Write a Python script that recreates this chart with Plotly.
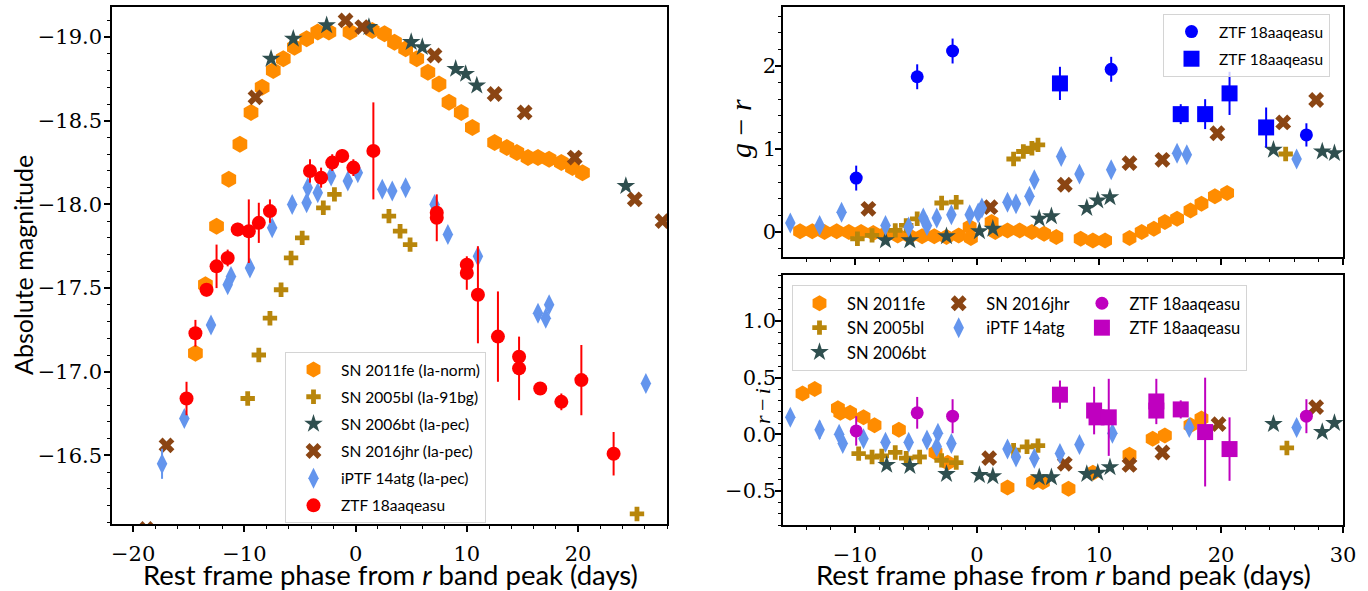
import plotly.graph_objects as go

# ---------------- Left panel: absolute magnitude light curves ----------------
fe_d = [-14.4, -13.5, -12.5, -11.4, -10.4, -9.4, -8.4, -7.4, -6.5, -5.5, -4.4, -3.4, -2.4, -0.5,
        1.5, 2.6, 3.5, 4.5, 5.5, 6.5, 7.5, 8.4, 9.5, 10.5, 12.5, 13.6, 14.5, 15.5, 16.4, 17.4,
        18.5, 19.5, 20.4]
fe_m = [-17.11, -17.52, -17.87, -18.15, -18.36, -18.55, -18.70, -18.80, -18.87, -18.94, -18.99,
        -19.03, -19.03, -19.03, -19.04, -19.02, -18.97, -18.93, -18.87, -18.79, -18.72, -18.61,
        -18.55, -18.46, -18.37, -18.34, -18.31, -18.28, -18.28, -18.27, -18.25, -18.22, -18.19]

bl_d = [-9.7, -8.7, -7.7, -6.7, -5.8, -4.8, -2.9, -1.9, 3.0, 4.0, 4.9, 25.3]
bl_m = [-16.84, -17.10, -17.32, -17.49, -17.68, -17.80, -17.98, -18.06, -17.93, -17.84, -17.76, -16.15]

bt_d = [-7.6, -5.6, -2.6, 1.2, 5.0, 6.0, 9.0, 9.9, 10.9, 24.3]
bt_m = [-18.87, -18.99, -19.07, -19.06, -18.97, -18.94, -18.81, -18.78, -18.71, -18.11]

jhr_d = [-18.8, -17.0, -9.0, -0.9, 0.6, 7.1, 12.5, 15.2, 19.7, 25.1, 27.6]
jhr_m = [-16.06, -16.56, -18.64, -19.10, -19.06, -18.89, -18.66, -18.55, -18.28, -18.03, -17.90]

atg_d = [-17.4, -15.4, -13.0, -11.5, -11.2, -9.5, -7.5, -5.7, -4.4, -4.3, -3.4, -2.2, -0.7, 0.2,
         2.4, 3.3, 4.5, 7.1, 8.3, 11.0, 16.4, 17.1, 17.4, 26.1]
atg_m = [-16.45, -16.72, -17.28, -17.52, -17.57, -17.62, -17.86, -18.00, -18.01, -18.10, -18.07,
         -18.17, -18.14, -18.19, -18.09, -18.08, -18.10, -18.00, -17.82, -17.69, -17.35, -17.32,
         -17.40, -16.93]
atg_e = [0.09] + [0.0] * 23

ztf_d = [-15.2, -14.4, -13.4, -12.5, -11.5, -10.6, -9.6, -8.7, -7.7, -4.1, -3.1, -2.1, -1.2, -0.2,
         1.6, 7.3, 7.3, 10.0, 10.0, 11.0, 12.8, 14.7, 14.7, 16.6, 18.5, 20.3, 23.2]
ztf_m = [-16.84, -17.23, -17.49, -17.63, -17.68, -17.85, -17.84, -17.89, -17.96, -18.20, -18.16,
         -18.25, -18.29, -18.22, -18.32, -17.95, -17.92, -17.64, -17.59, -17.46, -17.21, -17.09,
         -17.02, -16.90, -16.82, -16.95, -16.51]
ztf_e = [0.10, 0.08, 0.04, 0.13, 0.05, 0.04, 0.19, 0.12, 0.07, 0.07, 0.06, 0.05, 0.04, 0.05,
         0.29, 0.04, 0.14, 0.03, 0.10, 0.29, 0.27, 0.04, 0.19, 0.03, 0.05, 0.21, 0.13]

# ---------------- Right top: g - r ----------------
fe_gr_d = [-14.5, -13.5, -12.5, -11.5, -10.5, -9.5, -8.5, -7.5, -6.5, -5.5, -4.5, -3.5, -2.5, -1.5,
           -0.6, -0.5, 1.2, 1.5, 2.5, 3.5, 4.5, 5.5, 6.5, 8.5, 9.5, 10.5, 12.5, 13.5, 14.5, 15.4,
           16.4, 17.5, 18.4, 19.5, 20.5]
fe_gr = [0.01, 0.01, 0.0, 0.01, 0.0, 0.0, -0.01, -0.02, -0.04, -0.05, -0.05, -0.05, -0.06, -0.04,
         0.06, -0.07, 0.12, 0.0, 0.02, 0.02, 0.0, -0.02, -0.06, -0.08, -0.10, -0.10, -0.07, 0.0,
         0.04, 0.12, 0.16, 0.26, 0.34, 0.43, 0.47]

bl_gr_d = [-9.8, -8.6, -6.7, -5.8, -4.9, -2.9, -1.7, 3.0, 3.8, 4.5, 5.0, 25.3]
bl_gr = [-0.08, -0.04, 0.02, 0.08, 0.16, 0.35, 0.36, 0.88, 0.97, 1.01, 1.05, 0.94]

bt_gr_d = [-7.5, -5.5, -2.5, 0.2, 1.3, 5.1, 6.1, 9.0, 9.9, 10.9, 24.3, 28.3, 29.3]
bt_gr = [-0.10, -0.10, -0.05, 0.01, 0.04, 0.16, 0.19, 0.29, 0.38, 0.42, 0.99, 0.97, 0.95]

jhr_gr_d = [-8.9, 1.1, 7.2, 12.5, 15.2, 19.7, 25.1, 27.8]
jhr_gr = [0.28, 0.30, 0.57, 0.83, 0.87, 1.19, 1.32, 1.59]

atg_gr_d = [-15.3, -12.9, -11.1, -7.5, -5.6, -4.4, -4.1, -3.3, -2.1, -0.6, 0.1, 0.4, 2.5, 3.2,
            4.3, 4.7, 6.9, 8.4, 11.0, 16.4, 17.2, 26.2]
atg_gr = [0.11, 0.08, 0.24, 0.08, 0.06, 0.17, 0.08, 0.17, 0.21, 0.21, 0.23, 0.29, 0.36, 0.34,
          0.43, 0.63, 0.91, 0.70, 0.75, 0.95, 0.93, 0.88]

ztfc_gr_d = [-9.9, -4.9, -2.0, 11.0, 27.0]
ztfc_gr = [0.65, 1.87, 2.18, 1.96, 1.17]
ztfc_gr_e = [0.15, 0.15, 0.15, 0.15, 0.14]

ztfs_gr_d = [6.8, 16.7, 18.7, 20.7, 23.7]
ztfs_gr = [1.79, 1.42, 1.42, 1.67, 1.26]
ztfs_gr_e = [0.20, 0.12, 0.18, 0.26, 0.24]

# ---------------- Right bottom: r - i ----------------
fe_ri_d = [-14.3, -13.3, -11.4, -11.2, -10.4, -9.3, -8.4, -6.4, -3.4, -2.4, 2.5, 4.6, 5.4, 7.5,
           9.5, 12.5, 14.4, 15.4, 17.5, 18.4]
fe_ri = [0.36, 0.40, 0.23, 0.19, 0.19, 0.15, 0.08, 0.04, -0.16, -0.25, -0.47, -0.42, -0.42,
         -0.48, -0.34, -0.18, -0.04, -0.01, 0.08, 0.14]

bl_ri_d = [-9.7, -8.6, -7.8, -6.7, -5.8, -4.7, -2.9, -1.7, 3.0, 4.1, 5.0, 25.4]
bl_ri = [-0.17, -0.20, -0.19, -0.16, -0.21, -0.20, -0.23, -0.25, -0.14, -0.11, -0.10, -0.12]

bt_ri_d = [-7.4, -5.5, -2.5, 0.2, 1.3, 5.1, 6.1, 9.0, 9.9, 10.9, 24.3, 28.3, 29.3]
bt_ri = [-0.27, -0.28, -0.35, -0.36, -0.37, -0.38, -0.38, -0.35, -0.34, -0.29, 0.09, 0.02, 0.10]

jhr_ri_d = [1.0, 7.2, 12.5, 15.2, 19.8, 27.8]
jhr_ri = [-0.21, -0.26, -0.27, -0.16, 0.09, 0.24]

atg_ri_d = [-15.3, -12.9, -11.3, -11.0, -9.3, -7.5, -5.6, -4.1, -3.2, -3.3, -2.1, 2.5, 3.2, 4.7,
            6.8, 8.4, 11.1, 17.4, 26.2]
atg_ri = [0.15, 0.04, 0.0, -0.08, -0.04, -0.07, -0.07, -0.05, 0.01, -0.11, -0.08, -0.13, -0.20,
          -0.21, -0.17, -0.09, 0.01, 0.06, 0.06]
atg_ri_e = [0.0, 0.08] + [0.0] * 17

ztfc_ri_d = [-9.9, -4.9, -2.0, 27.0]
ztfc_ri = [0.03, 0.19, 0.16, 0.16]
ztfc_ri_e = [0.13, 0.14, 0.15, 0.15]

ztfs_ri_d = [6.8, 9.6, 9.8, 10.8, 14.7, 14.7, 16.7, 18.7, 20.7]
ztfs_ri = [0.35, 0.21, 0.15, 0.15, 0.29, 0.21, 0.22, 0.02, -0.13]
ztfs_ri_e = [0.125, 0.21, 0.0, 0.34, 0.20, 0.0, 0.08, 0.48, 0.28]

# ---------------- styles ----------------
C_FE, C_BL, C_BT, C_JHR, C_ATG = "#FF8C00", "#B8860B", "#2F4F4F", "#8B4513", "#6495ED"
SANS = "Lato"
SERIF = "DejaVu Serif"
MATH = "Liberation Serif"

fig = go.Figure()


def sc(x, y, name, sym, color, size, xa, ya, legend=None, group=None, err=None, rank=1000):
    tr = go.Scatter(
        x=x, y=y, mode="markers", name=name,
        marker=dict(symbol=sym, color=color, size=size, line=dict(width=0)),
        xaxis=xa, yaxis=ya, showlegend=legend is not None, legendrank=rank,
    )
    if legend is not None:
        tr.legend = legend
        tr.legendgroup = group
    if err is not None:
        tr.error_y = dict(type="data", array=err, visible=True, color=color, thickness=2, width=0)
    fig.add_trace(tr)


# left panel
sc(fe_d, fe_m, "SN 2011fe (Ia-norm)", "hexagon", C_FE, 17, "x", "y", "legend", "L1", rank=1)
sc(bl_d, bl_m, "SN 2005bl (Ia-91bg)", "cross", C_BL, 12, "x", "y", "legend", "L2", rank=2)
sc(bt_d, bt_m, "SN 2006bt (Ia-pec)", "star", C_BT, 14, "x", "y", "legend", "L3", rank=3)
sc(jhr_d, jhr_m, "SN 2016jhr (Ia-pec)", "x", C_JHR, 14, "x", "y", "legend", "L4", rank=4)
sc(atg_d, atg_m, "iPTF 14atg (Ia-pec)", "diamond-tall", C_ATG, 15, "x", "y", "legend", "L5",
   err=atg_e, rank=5)
sc(ztf_d, ztf_m, "ZTF 18aaqeasu", "circle", "red", 14, "x", "y", "legend", "L6", err=ztf_e, rank=6)

# right top (g-r)
sc(fe_gr_d, fe_gr, "SN 2011fe", "hexagon", C_FE, 16, "x2", "y2")
sc(bl_gr_d, bl_gr, "SN 2005bl", "cross", C_BL, 12, "x2", "y2")
sc(bt_gr_d, bt_gr, "SN 2006bt", "star", C_BT, 14, "x2", "y2")
sc(jhr_gr_d, jhr_gr, "SN 2016jhr", "x", C_JHR, 14, "x2", "y2")
sc(atg_gr_d, atg_gr, "iPTF 14atg", "diamond-tall", C_ATG, 15, "x2", "y2")
sc(ztfc_gr_d, ztfc_gr, "ZTF 18aaqeasu", "circle", "blue", 13, "x2", "y2", "legend2", "T1",
   err=ztfc_gr_e, rank=1)
sc(ztfs_gr_d, ztfs_gr, "ZTF 18aaqeasu", "square", "blue", 16, "x2", "y2", "legend2", "T2",
   err=ztfs_gr_e, rank=2)

# right bottom (r-i): groups = legend columns
sc(fe_ri_d, fe_ri, "SN 2011fe", "hexagon", C_FE, 16, "x3", "y3", "legend3", "B1", rank=1)
sc(bl_ri_d, bl_ri, "SN 2005bl", "cross", C_BL, 12, "x3", "y3", "legend3", "B1", rank=2)
sc(bt_ri_d, bt_ri, "SN 2006bt", "star", C_BT, 14, "x3", "y3", "legend3", "B1", rank=3)
sc(jhr_ri_d, jhr_ri, "SN 2016jhr", "x", C_JHR, 14, "x3", "y3", "legend3", "B2", rank=4)
sc(atg_ri_d, atg_ri, "iPTF 14atg", "diamond-tall", C_ATG, 15, "x3", "y3", "legend3", "B2",
   err=atg_ri_e, rank=5)
sc(ztfc_ri_d, ztfc_ri, "ZTF 18aaqeasu", "circle", "#BF00BF", 13, "x3", "y3", "legend3", "B3",
   err=ztfc_ri_e, rank=6)
sc(ztfs_ri_d, ztfs_ri, "ZTF 18aaqeasu", "square", "#BF00BF", 16, "x3", "y3", "legend3", "B3",
   err=ztfs_ri_e, rank=7)

W, H = 1368, 591


def px(v):
    return v / W


def py(v):
    return 1 - v / H


MINOR = dict(ticklen=3.5, tickwidth=1.2, ticks="outside", tickcolor="black", showgrid=False)
axis_common = dict(
    showline=True, linecolor="black", linewidth=1.5, mirror=True,
    ticks="outside", ticklen=6, tickwidth=1.5, tickcolor="black",
    showgrid=False, zeroline=False, automargin=False,
    tickfont=dict(family=SERIF, size=21, color="black"),
)
XA = dict(ticklabelstandoff=4, **axis_common)
YL = dict(ticklabelstandoff=-2, **axis_common)
YR = dict(ticklabelstandoff=-5, **axis_common)
xtitle = "Rest frame phase from <i>r</i> band peak (days)"
LEG = dict(xref="container", yref="container", xanchor="left", yanchor="top",
           bgcolor="rgba(255,255,255,0.8)", bordercolor="#d4d4d4", borderwidth=1)

fig.update_layout(
    width=W, height=H,
    margin=dict(l=0, r=0, t=0, b=0, autoexpand=False),
    paper_bgcolor="white", plot_bgcolor="white",
    font=dict(family=SANS, color="black"),
    xaxis=dict(domain=[px(112), px(667)], range=[-21.9, 28.0], anchor="y", dtick=10,
               minor=dict(dtick=2, **MINOR), **XA),
    yaxis=dict(domain=[py(524), py(7)], range=[-16.09, -19.18], anchor="x", dtick=0.5,
               tickformat=".1f", minor=dict(dtick=0.1, **MINOR), **YL),
    xaxis2=dict(domain=[px(783), px(1343)], range=[-15.9, 30.0], anchor="y2", dtick=10,
                showticklabels=False, minor=dict(dtick=2, **MINOR), **XA),
    yaxis2=dict(domain=[py(257), py(7)], range=[-0.30, 2.71], anchor="x2", dtick=1,
                minor=dict(dtick=0.2, **MINOR), **YR),
    xaxis3=dict(domain=[px(783), px(1343)], range=[-15.9, 30.0], anchor="y3", dtick=10,
                minor=dict(dtick=2, **MINOR), **XA),
    yaxis3=dict(domain=[py(525), py(275)], range=[-0.80, 1.406], anchor="x3", dtick=0.5,
                tickformat=".1f", minor=dict(dtick=0.1, **MINOR), **YR),
    legend=dict(x=px(285), y=py(352), itemwidth=45, tracegroupgap=4,
                font=dict(family=SANS, size=15.5, color="black"), **LEG),
    legend2=dict(x=px(1163), y=py(14), itemwidth=45, tracegroupgap=4,
                 font=dict(family=SANS, size=15.5, color="black"), **LEG),
    legend3=dict(x=px(792), y=py(285), orientation="h", itemwidth=45, tracegroupgap=78,
                 font=dict(family=SANS, size=16.5, color="black"), **LEG),
    annotations=[
        dict(text="Absolute magnitude", xref="paper", yref="paper", x=px(23), y=py(265),
             xanchor="center", yanchor="middle", textangle=-90, showarrow=False,
             font=dict(family=SANS, size=25)),
        dict(text=xtitle, xref="paper", yref="paper", x=px(390), y=py(574),
             xanchor="center", yanchor="middle", showarrow=False,
             font=dict(family=SANS, size=27.5)),
        dict(text=xtitle, xref="paper", yref="paper", x=px(1063), y=py(574),
             xanchor="center", yanchor="middle", showarrow=False,
             font=dict(family=SANS, size=27.5)),
        dict(text="<i>g</i> − <i>r</i>", xref="paper", yref="paper", x=px(740), y=py(129),
             xanchor="center", yanchor="middle", textangle=-90, showarrow=False,
             font=dict(family=MATH, size=30)),
        dict(text="<i>r</i>\u2009−\u2009<i>i</i>", xref="paper", yref="paper", x=px(762),
             y=py(406), xanchor="center", yanchor="middle", textangle=-90, showarrow=False,
             font=dict(family=MATH, size=22)),
    ],
)

fig.write_html("out.html", config={"displayModeBar": False},
               post_script="document.body.style.margin='0';")
